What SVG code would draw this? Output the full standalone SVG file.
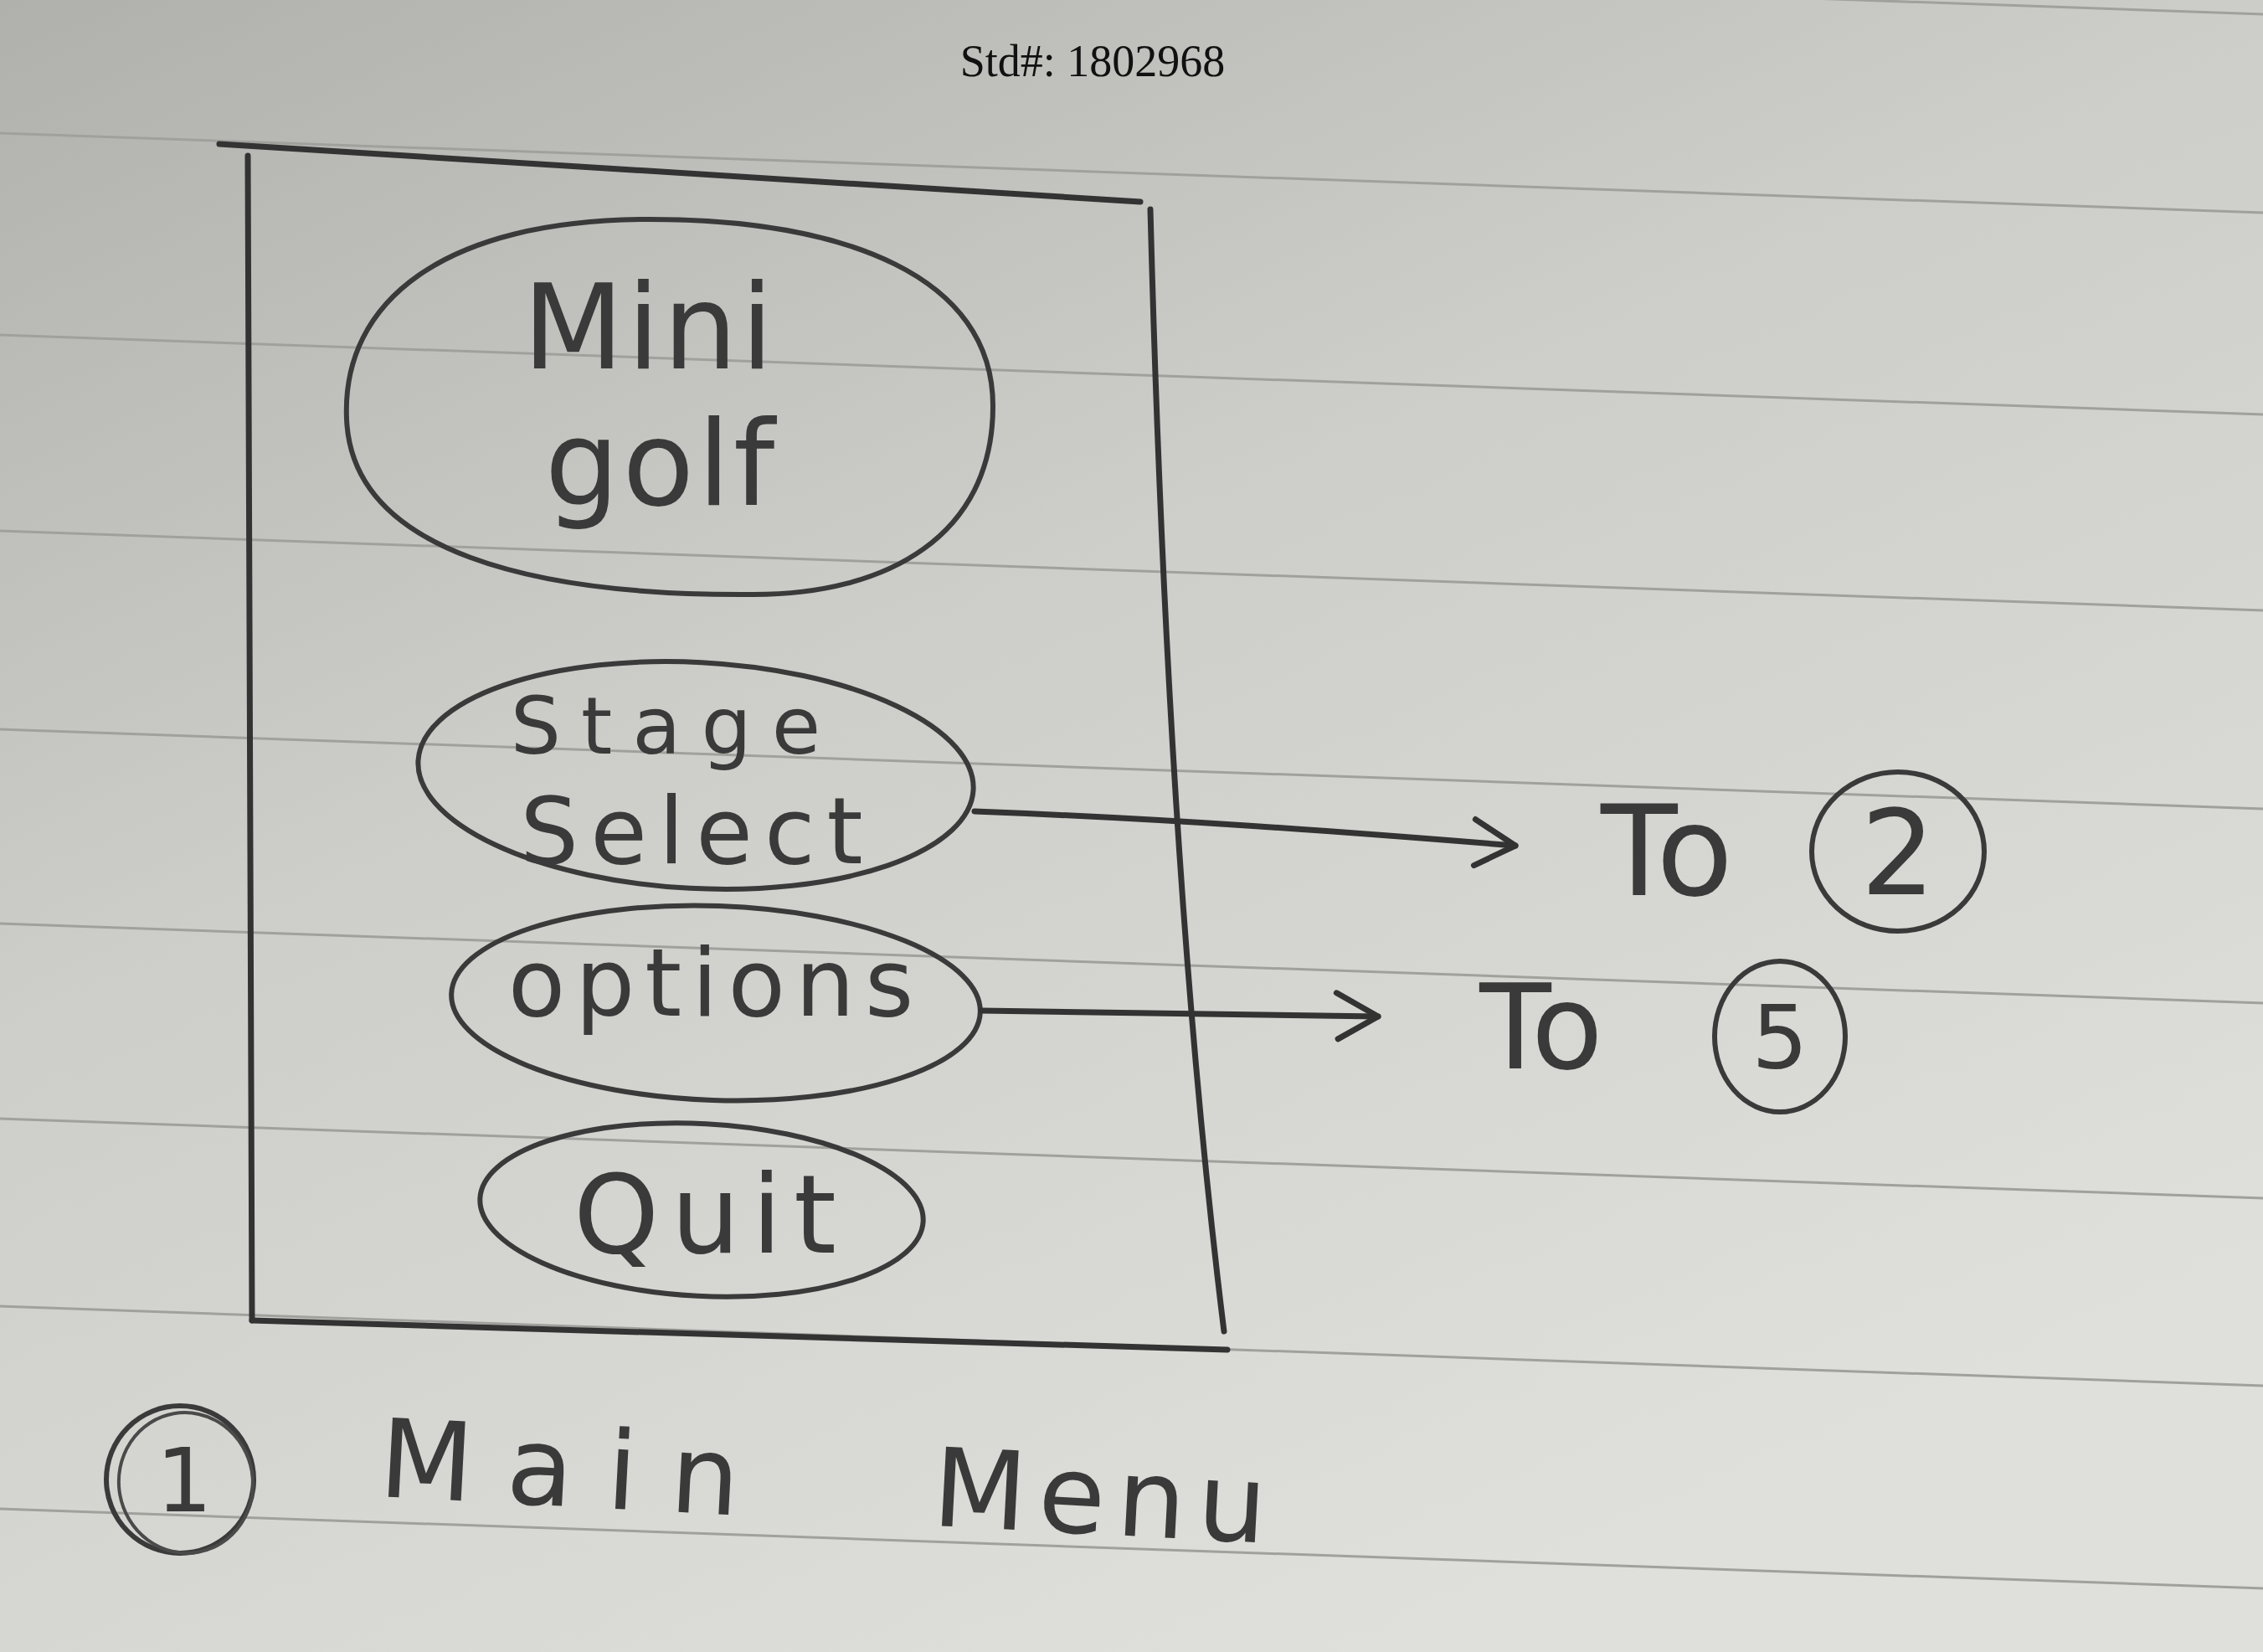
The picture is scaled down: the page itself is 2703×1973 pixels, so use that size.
<svg xmlns="http://www.w3.org/2000/svg" width="2703" height="1973" viewBox="0 0 2703 1973">
<defs>
<linearGradient id="paper" x1="0" y1="0" x2="0.6" y2="1">
<stop offset="0" stop-color="#b0b0ad"/>
<stop offset="0.45" stop-color="#cdcdc9"/>
<stop offset="1" stop-color="#dfdfdb"/>
</linearGradient>
<marker id="head" viewBox="0 0 12 12" refX="11" refY="6" markerWidth="60" markerHeight="70" markerUnits="userSpaceOnUse" orient="auto">
<path d="M1,0.5 L11,6 L1.5,11.5" fill="none" stroke="#333" stroke-width="1.4" stroke-linecap="round" stroke-linejoin="round"/>
</marker>
</defs>
<style>
.rule{stroke:#a0a09d;stroke-width:3;fill:none}
.pen{fill:none;stroke:#3a3a3a;stroke-width:6;stroke-linecap:round;stroke-linejoin:round}
.pen2{fill:none;stroke:#4a4a4a;stroke-width:4}
.frame{fill:none;stroke:#333;stroke-width:7;stroke-linecap:round}
.hand{font-family:"DejaVu Sans",sans-serif;fill:#3a3a3a;text-anchor:middle}
.conn{fill:none;stroke:#333;stroke-width:7;stroke-linecap:round}
</style>
<rect width="2703" height="1973" fill="url(#paper)"/>
<g id="ruled-lines">
<line class="rule" x1="0" y1="-78" x2="2703" y2="17"/>
<line class="rule" x1="0" y1="159" x2="2703" y2="254"/>
<line class="rule" x1="0" y1="400" x2="2703" y2="495"/>
<line class="rule" x1="0" y1="634" x2="2703" y2="729"/>
<line class="rule" x1="0" y1="871" x2="2703" y2="966"/>
<line class="rule" x1="0" y1="1103" x2="2703" y2="1198"/>
<line class="rule" x1="0" y1="1336" x2="2703" y2="1431"/>
<line class="rule" x1="0" y1="1560" x2="2703" y2="1655"/>
<line class="rule" x1="0" y1="1802" x2="2703" y2="1897"/>
</g>
<text x="1305" y="91" font-family="Liberation Serif, serif" font-size="54" fill="#111" text-anchor="middle">Std#: 1802968</text>
<g id="screen">
<path class="frame" d="M262,172 L1362,241"/>
<path class="frame" d="M296,186 L301,1577"/>
<path class="frame" d="M301,1577 L1466,1612"/>
<path class="frame" d="M1374,250 Q1395,1050 1462,1590"/>
</g>
<g id="title">
<path class="pen" d="M414,500 C408,360 530,262 776,262 C1010,262 1186,330 1186,485 C1186,640 1060,710 900,710 C640,712 420,660 414,500 Z"/>
<text class="hand" x="776" y="440" font-size="140" letter-spacing="4">Mini</text>
<text class="hand" x="790" y="603" font-size="140" letter-spacing="4">golf</text>
</g>
<g id="stage-select">
<ellipse class="pen" cx="831" cy="926" rx="332" ry="135" transform="rotate(3 831 926)"/>
<text class="hand" x="807" y="900" font-size="95" letter-spacing="24">Stage</text>
<text class="hand" x="833" y="1031" font-size="110" letter-spacing="14">Select</text>
</g>
<g id="options">
<ellipse class="pen" cx="855" cy="1198" rx="316" ry="116" transform="rotate(2 855 1198)"/>
<text class="hand" x="855" y="1213" font-size="112" letter-spacing="12">options</text>
</g>
<g id="quit">
<ellipse class="pen" cx="838" cy="1445" rx="265" ry="103" transform="rotate(3 838 1445)"/>
<text class="hand" x="849" y="1496" font-size="130" letter-spacing="14">Quit</text>
</g>
<g id="to-2">
<text class="hand" x="1991" y="1069" font-size="150">To</text>
<ellipse class="pen" cx="2267" cy="1017" rx="103" ry="95"/>
<text class="hand" x="2267" y="1068" font-size="140">2</text>
</g>
<g id="to-5">
<text class="hand" x="1841" y="1276" font-size="140">To</text>
<ellipse class="pen" cx="2126" cy="1238" rx="78" ry="90"/>
<text class="hand" x="2126" y="1276" font-size="106">5</text>
</g>
<g id="caption">
<ellipse class="pen" cx="215" cy="1767" rx="88" ry="88"/>
<ellipse class="pen2" cx="222" cy="1771" rx="80" ry="84" transform="rotate(-10 222 1771)"/>
<text class="hand" x="220" y="1805" font-size="106">1</text>
<text class="hand" font-size="130" transform="rotate(3 985 1830)"><tspan x="685" y="1815" letter-spacing="40">Main</tspan><tspan x="1318" y="1815" letter-spacing="14">Menu</tspan></text>
</g>
<g id="connectors">
<path class="conn" d="M1164,969 C1400,978 1600,993 1810,1010" marker-end="url(#head)"/>
<path class="conn" d="M1172,1207 C1350,1210 1500,1212 1646,1214" marker-end="url(#head)"/>
</g>
</svg>
